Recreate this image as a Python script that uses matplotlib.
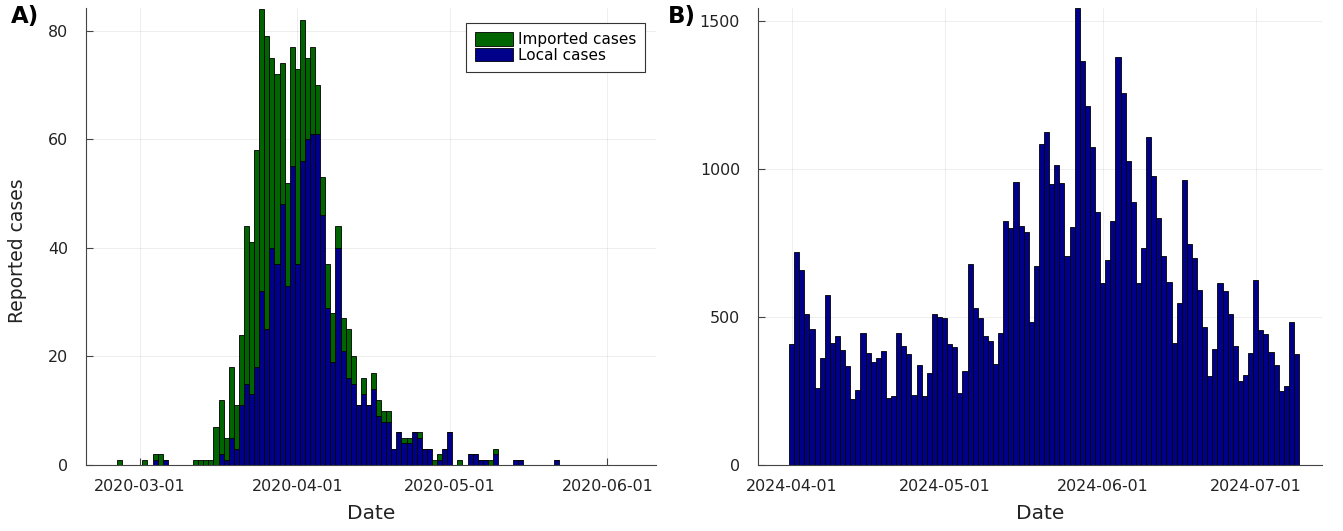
import numpy as np
import pandas as pd
import matplotlib
matplotlib.use("Agg")
import matplotlib.pyplot as plt
import matplotlib.dates as mdates

# Panel A: casos reportados por dia (2020-02-26 .. 2020-06-04)
fechas_a = pd.date_range("2020-02-26", periods=100, freq="D")
casos_locales = [
    0, 0, 0, 0,
    0, 0, 0, 1, 0, 1, 0, 0, 0, 0,
    0, 0, 0, 0, 0, 0, 2, 1, 5, 3,
    11, 15, 13, 18, 32, 25, 40, 37, 48, 33,
    55, 37, 56, 60, 61, 61, 46, 29, 19, 40,
    21, 16, 15, 11, 13, 11, 14, 9, 8, 8,
    3, 6, 4, 4, 6, 5, 3, 3, 0, 1,
    3, 6, 0, 0, 0, 2, 2, 1, 1, 0,
    2, 0, 0, 0, 1, 1, 0, 0, 0, 0,
    0, 0, 1, 0, 0, 0, 0, 0, 0, 0,
    0, 0, 0, 0, 0, 0,
]
casos_importados = [
    1, 0, 0, 0,
    0, 1, 0, 1, 2, 0, 0, 0, 0, 0,
    0, 1, 1, 1, 1, 7, 10, 4, 13, 8,
    13, 29, 28, 40, 52, 54, 35, 35, 26, 19,
    22, 36, 26, 15, 16, 9, 7, 8, 9, 4,
    6, 9, 5, 0, 3, 0, 3, 3, 2, 2,
    0, 0, 1, 1, 0, 1, 0, 0, 1, 1,
    0, 0, 0, 1, 0, 0, 0, 0, 0, 1,
    1, 0, 0, 0, 0, 0, 0, 0, 0, 0,
    0, 0, 0, 0, 0, 0, 0, 0, 0, 0,
    0, 0, 0, 0, 0, 0,
]
ticks_a = ["2020-03-01", "2020-04-01", "2020-05-01", "2020-06-01"]

# Panel B: 2024-04-01 .. 2024-07-09
fechas_b = pd.date_range("2024-04-01", periods=100, freq="D")
casos_b = [
    410, 720, 659, 511, 460, 262, 361, 576, 413, 435,
    390, 336, 223, 252, 446, 378, 348, 361, 387, 228,
    234, 446, 403, 376, 235, 339, 233, 312, 510, 502,
    496, 410, 399, 245, 317, 679, 530, 498, 436, 419,
    342, 447, 825, 800, 958, 809, 788, 483, 672, 1084,
    1126, 951, 1013, 953, 708, 804, 1545, 1365, 1213, 1076,
    855, 615, 692, 826, 1380, 1258, 1029, 890, 615, 733,
    1109, 978, 836, 706, 618, 412, 547, 963, 747, 699,
    592, 466, 300, 393, 617, 588, 511, 402, 284, 304,
    380, 624, 458, 444, 382, 339, 249, 266, 483, 376,
]
ticks_b = ["2024-04-01", "2024-05-01", "2024-06-01", "2024-07-01"]

verde = "#006400"
azul = "#00008b"


def estilo(ax, ticks, yticks):
    ax.spines["top"].set_visible(False)
    ax.spines["right"].set_visible(False)
    ax.spines["left"].set_color("#444444")
    ax.spines["bottom"].set_color("#444444")
    ax.set_xticks(pd.to_datetime(ticks))
    ax.xaxis.set_major_formatter(mdates.DateFormatter("%Y-%m-%d"))
    ax.set_yticks(yticks)
    ax.tick_params(axis="both", direction="in", length=5, color="#444444",
                   labelsize=11.4, labelcolor="#222222")
    ax.tick_params(axis="x", pad=10)
    ax.tick_params(axis="y", pad=13)
    ax.grid(True, color="black", alpha=0.08, linewidth=0.6)
    ax.set_axisbelow(True)
    ax.set_xlabel("Date", fontsize=14.5, color="#222222", labelpad=7)


fig = plt.figure(figsize=(13.43, 5.31), dpi=100)

# ---- A) ----
ax1 = fig.add_axes([0.064, 0.1243, 0.4245, 0.8606])
loc = np.array(casos_locales)
imp = np.array(casos_importados)
ax1.bar(fechas_a, loc, width=1.0, color=azul, edgecolor="black", linewidth=0.6,
        label="Local cases")
ax1.bar(fechas_a, imp, width=1.0, bottom=loc, color=verde, edgecolor="black",
        linewidth=0.6, label="Imported cases")
x0 = pd.Timestamp("2020-03-01")
ax1.set_xlim(x0 - pd.Timedelta(days=10.6), x0 + pd.Timedelta(days=101.6))
ax1.set_ylim(0, 84.2)
estilo(ax1, ticks_a, [0, 20, 40, 60, 80])
ax1.set_ylabel("Reported cases", fontsize=13.5, color="#222222")
ax1.yaxis.set_label_coords(-0.104, 0.47)
h, l = ax1.get_legend_handles_labels()
leg = ax1.legend(h[::-1], l[::-1], loc="upper right", bbox_to_anchor=(0.981, 0.967),
                 borderaxespad=0, fontsize=11, fancybox=False, framealpha=1,
                 edgecolor="#333333", handlelength=2.5, handleheight=0.95,
                 labelspacing=0.02, handletextpad=0.3, borderpad=0.6)
leg.get_frame().set_linewidth(0.8)

# ---- B) ----
ax2 = fig.add_axes([0.5644, 0.1243, 0.42, 0.8606])
ax2.bar(fechas_b, casos_b, width=1.0, color=azul, edgecolor="black", linewidth=0.6)
x0b = pd.Timestamp("2024-04-01")
ax2.set_xlim(x0b - pd.Timedelta(days=6.6), x0b + pd.Timedelta(days=104))
ax2.set_ylim(0, 1545)
estilo(ax2, ticks_b, [0, 500, 1000, 1500])

fig.text(0.008, 0.99, "A)", fontsize=16.5, fontweight="bold", va="top", ha="left")
fig.text(0.497, 0.99, "B)", fontsize=16.5, fontweight="bold", va="top", ha="left")

fig.savefig("out.png", dpi=100)
